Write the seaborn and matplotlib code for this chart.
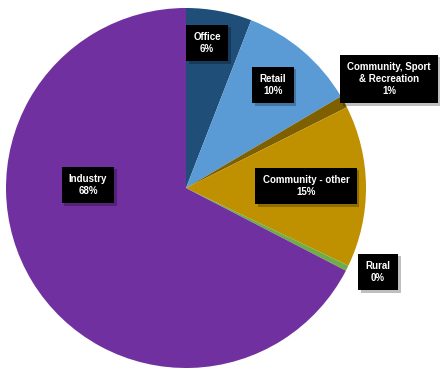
import matplotlib
matplotlib.use("Agg")
import matplotlib.pyplot as plt
import matplotlib.patheffects as pe
import seaborn as sns

categories = ["Office", "Retail", "Community, Sport\n& Recreation", "Community - other", "Rural", "Industry"]
values = [5.9, 10.6, 1.1, 14.5, 0.5, 67.4]
pct_labels = ["6%", "10%", "1%", "15%", "0%", "68%"]
colors = ["#1f4e79", "#5b9bd5", "#7f6000", "#bf9000", "#70ad47", "#7030a0"]

# label box centres in pixel coordinates (x, y from top)
label_pos = [(207, 43), (273, 85), (389, 79), (306, 186), (378, 272), (88, 185)]

sns.set_theme(style="white")
plt.rcParams['font.family'] = ['Liberation Sans', 'DejaVu Sans']

W, H = 440, 378
fig = plt.figure(figsize=(W / 100, H / 100), dpi=100)
ax = fig.add_axes([0, 0, 1, 1])
ax.set_xlim(0, W)
ax.set_ylim(0, H)
ax.set_aspect('equal')
ax.axis('off')

ax.pie(values, colors=colors, startangle=90, counterclock=False,
       center=(186, H - 188), radius=180, wedgeprops=dict(linewidth=0))

for cat, pct, (x, y) in zip(categories, pct_labels, label_pos):
    t = ax.text(x, H - y, f"{cat}\n{pct}", ha='center', va='center', color='white',
                fontsize=7, fontweight='bold', linespacing=1.25,
                bbox=dict(boxstyle='square,pad=0.75', facecolor='black', edgecolor='none'))
    t.get_bbox_patch().set_path_effects([
        pe.SimplePatchShadow(offset=(2, -2), shadow_rgbFace='black', alpha=0.25),
        pe.Normal()])

ax.set_xlim(0, W)
ax.set_ylim(0, H)
fig.savefig("out.png", dpi=100)
